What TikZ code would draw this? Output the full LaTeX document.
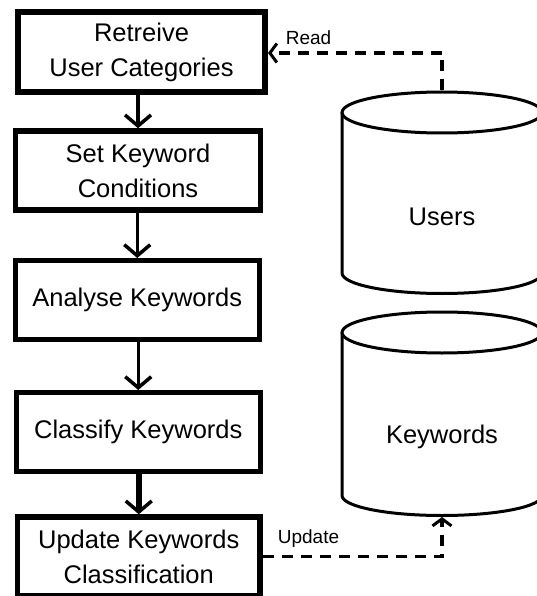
\documentclass[tikz,border=0pt]{standalone}
\usepackage{fontspec}
\setmainfont{Liberation Sans}
\usetikzlibrary{arrows.meta}
\begin{document}
\begin{tikzpicture}[x=1pt, y=1pt,
  stepbox/.style={draw, rectangle, inner sep=0pt, align=center,
    font=\fontsize{25.5}{35}\selectfont},
  flow/.style={-{Straight Barb[length=11pt, width=26pt, line width=3.5pt]}},
  dbbody/.style={rectangle, inner sep=0pt, outer sep=1.5pt, minimum width=200pt},
  dbline/.style={line width=3pt},
  dbtext/.style={anchor=base, inner sep=0pt, font=\fontsize{25.5}{30}\selectfont},
  access/.style={line width=3.5pt, dash pattern=on 11pt off 8pt,
    -{Straight Barb[length=7pt, width=19pt, line width=3pt]}},
  accesstext/.style={anchor=base, inner sep=0pt, font=\fontsize{19}{22}\selectfont}]

\useasboundingbox (0,0) rectangle (537,-596);
\clip (0,0) rectangle (537,-596);

% process steps
\node[stepbox, line width=6pt, minimum width=247pt, minimum height=80pt]
  (retrieve) at (141.5,-52) {Retreive\\User Categories};
\node[stepbox, line width=5.5pt, minimum width=245pt, minimum height=79pt]
  (setkw) at (138,-170.5) {Set Keyword\\Conditions};
\node[stepbox, line width=5pt, minimum width=244.5pt, minimum height=78.5pt]
  (analyse) at (137.25,-299.75) {Analyse Keywords};
\node[stepbox, line width=5pt, minimum width=243.5pt, minimum height=79pt]
  (classify) at (138.25,-432) {Classify Keywords};
\node[stepbox, line width=5.5pt, minimum width=242.5pt, minimum height=79pt]
  (update) at (138.75,-556.5) {Update Keywords\\Classification};

% flow between the steps
\draw[flow, line width=4pt]   (setkw.north |- retrieve.south) -- (setkw.north);
\draw[flow, line width=3.5pt] (analyse.north |- setkw.south) -- (analyse.north);
\draw[flow, line width=3.5pt] (classify.north |- analyse.south) -- (classify.north);
\draw[flow, line width=6.5pt] (update.north |- classify.south) -- (update.north);

% data stores
\node[dbbody, minimum height=201.5pt] (users) at (442,-192.75) {};
\draw[dbline] (442,-112.5) ellipse [x radius=100pt, y radius=20.5pt];
\draw[dbline] (342,-112.5) -- (342,-273)
  arc[start angle=180, end angle=360, x radius=100pt, y radius=20.5pt] -- (542,-112.5);
\node[dbtext] (userstext) at (442,-225) {Users};

\node[dbbody, minimum height=203.5pt] (keywords) at (442,-413.75) {};
\draw[dbline] (442,-332.5) ellipse [x radius=100pt, y radius=20.5pt];
\draw[dbline] (342,-332.5) -- (342,-495.5)
  arc[start angle=180, end angle=360, x radius=100pt, y radius=20pt] -- (542,-332.5);
\node[dbtext] (keywordstext) at (442,-443) {Keywords};

% data access
\coordinate (readturn) at (442,-53);
\draw[access] (users.north) -- (readturn) -- (readturn -| retrieve.east);
\node[accesstext] (readlabel) at (308.5,-45) {Read};

\draw[access] (update.east) -| (keywords.south);
\node[accesstext] (updatelabel) at (308.5,-543) {Update};
\end{tikzpicture}
\end{document}
